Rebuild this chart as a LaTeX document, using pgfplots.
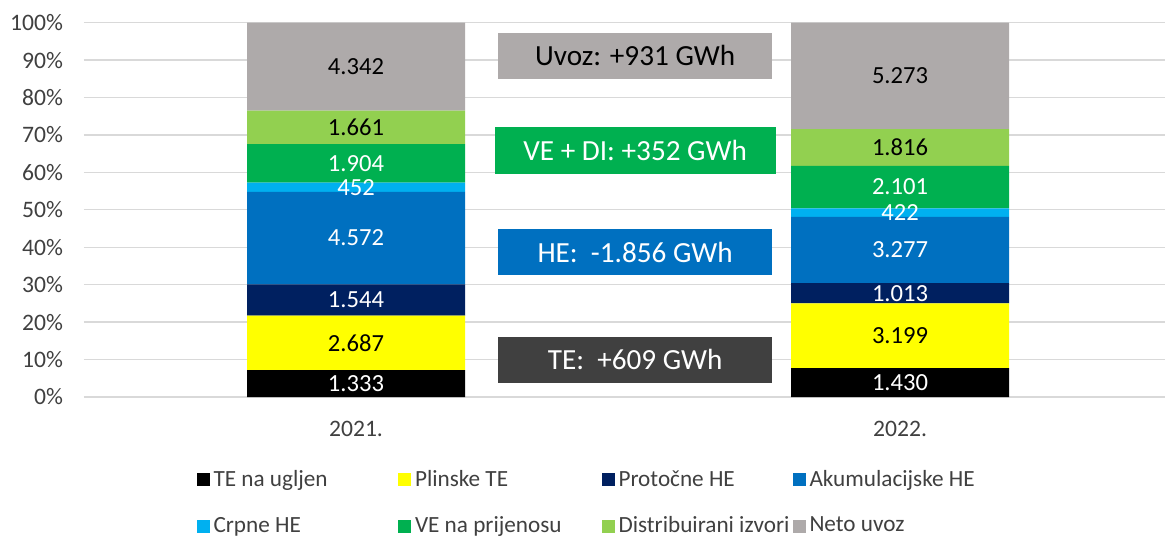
\documentclass[border=0pt]{standalone}
\usepackage{fontspec}
\setmainfont{Carlito}
\usepackage{pgfplots}
\usepackage{pgfplotstable}
\pgfplotsset{compat=1.18}

\definecolor{cTE}{HTML}{000000}
\definecolor{cPTE}{HTML}{FFFF00}
\definecolor{cPHE}{HTML}{002060}
\definecolor{cAHE}{HTML}{0070C0}
\definecolor{cCHE}{HTML}{00B0F0}
\definecolor{cVE}{HTML}{00B050}
\definecolor{cDI}{HTML}{92D050}
\definecolor{cUV}{HTML}{AEAAAA}
\definecolor{cGrid}{HTML}{D9D9D9}
\definecolor{cTxt}{HTML}{404040}

% GWh, 2021. and 2022.
\pgfplotstableread{
x  te   pte  phe  ahe  che  ve   di   uv
0  1333 2687 1544 4572 452  1904 1661 4342
1  1430 3199 1013 3277 422  2101 1816 5273
}\gen

\newcommand{\tot}{(\thisrow{te}+\thisrow{pte}+\thisrow{phe}+\thisrow{ahe}+\thisrow{che}+\thisrow{ve}+\thisrow{di}+\thisrow{uv})}

\pgfplotsset{
  base/.style={
    scale only axis, width=540.5pt, height=187.2pt,
    xmin=-0.5, xmax=1.487, ymin=0, ymax=100,
  },
  lbl/.style={draw=none, mark=none, every node near coord/.append style={text=#1}},
}

\begin{document}
\begin{tikzpicture}
\begin{axis}[base,
    ybar stacked, bar width=109pt,
    axis line style={draw=none},
    major tick length=0pt,
    ymajorgrids, grid style={cGrid, line width=0.65pt},
    ytick={0,10,...,100},
    yticklabel={\pgfmathprintnumber{\tick}\%},
    xtick={0,1}, xticklabels={2021.,2022.},
    ticklabel style={font=\fontsize{11.8}{14}\selectfont, text=cTxt},
    yticklabel style={xshift=-7pt},
    xticklabel style={yshift=-8.5pt},
    /pgf/number format/assume math mode=true,
    legend columns=4,
    legend cell align=left,
    legend style={at={(0.464,-0.283)}, anchor=center, draw=none,
      font=\fontsize{11.6}{13}\selectfont, text=cTxt, row sep=9.5pt,
      nodes={inner xsep=0pt}},
    legend image code/.code={\fill[#1] (0pt,-3.25pt) rectangle (6.5pt,3.25pt); \path (8.5pt,0pt);},
]
\addplot[fill=cTE, draw=none] table[x=x, y expr=\thisrow{te}/\tot*100]{\gen};
\addlegendentry{\makebox[92.25pt][l]{TE na ugljen}}
\addplot[fill=cPTE, draw=none] table[x=x, y expr=\thisrow{pte}/\tot*100]{\gen};
\addlegendentry{\makebox[93.25pt][l]{Plinske TE}}
\addplot[fill=cPHE, draw=none] table[x=x, y expr=\thisrow{phe}/\tot*100]{\gen};
\addlegendentry{\makebox[87pt][l]{Protočne HE}}
\addplot[fill=cAHE, draw=none] table[x=x, y expr=\thisrow{ahe}/\tot*100]{\gen};
\addlegendentry{Akumulacijske HE}
\addplot[fill=cCHE, draw=none] table[x=x, y expr=\thisrow{che}/\tot*100]{\gen};
\addlegendentry{\makebox[92.25pt][l]{Crpne HE}}
\addplot[fill=cVE, draw=none] table[x=x, y expr=\thisrow{ve}/\tot*100]{\gen};
\addlegendentry{\makebox[93.25pt][l]{VE na prijenosu}}
\addplot[fill=cDI, draw=none] table[x=x, y expr=\thisrow{di}/\tot*100]{\gen};
\addlegendentry{\makebox[87pt][l]{Distribuirani izvori}}
\addplot[fill=cUV, draw=none] table[x=x, y expr=\thisrow{uv}/\tot*100]{\gen};
\addlegendentry{Neto uvoz}

\node[fill=cUV, minimum width=137pt, minimum height=23pt, inner sep=0pt,
  font=\fontsize{14.6}{18}\selectfont, text=black] at (axis cs:0.513,91.1) {Uvoz: +931 GWh};
\node[fill=cVE, minimum width=140.5pt, minimum height=23.5pt, inner sep=0pt,
  font=\fontsize{14.6}{18}\selectfont, text=white] at (axis cs:0.513,65.8) {VE + DI: +352 GWh};
\node[fill=cAHE, minimum width=137pt, minimum height=23pt, inner sep=0pt,
  font=\fontsize{14.6}{18}\selectfont, text=white] at (axis cs:0.513,38.7) {HE:\ \ -1.856 GWh};
\node[fill=cTxt, minimum width=137pt, minimum height=23pt, inner sep=0pt,
  font=\fontsize{14.6}{18}\selectfont, text=white] at (axis cs:0.513,9.9) {TE:\ \ +609 GWh};

\coordinate (bl) at (rel axis cs:-0.0777,-0.3766);
\coordinate (tr) at (rel axis cs:1,1.0604);
\end{axis}

% value labels, centred in each segment
\begin{axis}[base, hide axis, clip=false,
    point meta=explicit,
    nodes near coords={\pgfmathprintnumber{\pgfplotspointmeta}},
    /pgf/number format/.cd, fixed, precision=0, 1000 sep={.}, assume math mode=true,
    /pgfplots/.cd,
    every node near coord/.append style={anchor=center, font=\fontsize{12.3}{14}\selectfont},
]
\addplot[lbl=white] table[x=x, y expr=0.5*\thisrow{te}/\tot*100, meta=te]{\gen};
\addplot[lbl=black] table[x=x, y expr=(\thisrow{te}+0.5*\thisrow{pte})/\tot*100, meta=pte]{\gen};
\addplot[lbl=white] table[x=x, y expr=(\thisrow{te}+\thisrow{pte}+0.5*\thisrow{phe})/\tot*100, meta=phe]{\gen};
\addplot[lbl=white] table[x=x, y expr=(\thisrow{te}+\thisrow{pte}+\thisrow{phe}+0.5*\thisrow{ahe})/\tot*100, meta=ahe]{\gen};
\addplot[lbl=white] table[x=x, y expr=(\thisrow{te}+\thisrow{pte}+\thisrow{phe}+\thisrow{ahe}+0.5*\thisrow{che})/\tot*100, meta=che]{\gen};
\addplot[lbl=white] table[x=x, y expr=(\thisrow{te}+\thisrow{pte}+\thisrow{phe}+\thisrow{ahe}+\thisrow{che}+0.5*\thisrow{ve})/\tot*100, meta=ve]{\gen};
\addplot[lbl=black] table[x=x, y expr=(\thisrow{te}+\thisrow{pte}+\thisrow{phe}+\thisrow{ahe}+\thisrow{che}+\thisrow{ve}+0.5*\thisrow{di})/\tot*100, meta=di]{\gen};
\addplot[lbl=black] table[x=x, y expr=(\tot-0.5*\thisrow{uv})/\tot*100, meta=uv]{\gen};
\end{axis}

\pgfresetboundingbox
\path[use as bounding box] (bl) rectangle (tr);
\end{tikzpicture}
\end{document}
